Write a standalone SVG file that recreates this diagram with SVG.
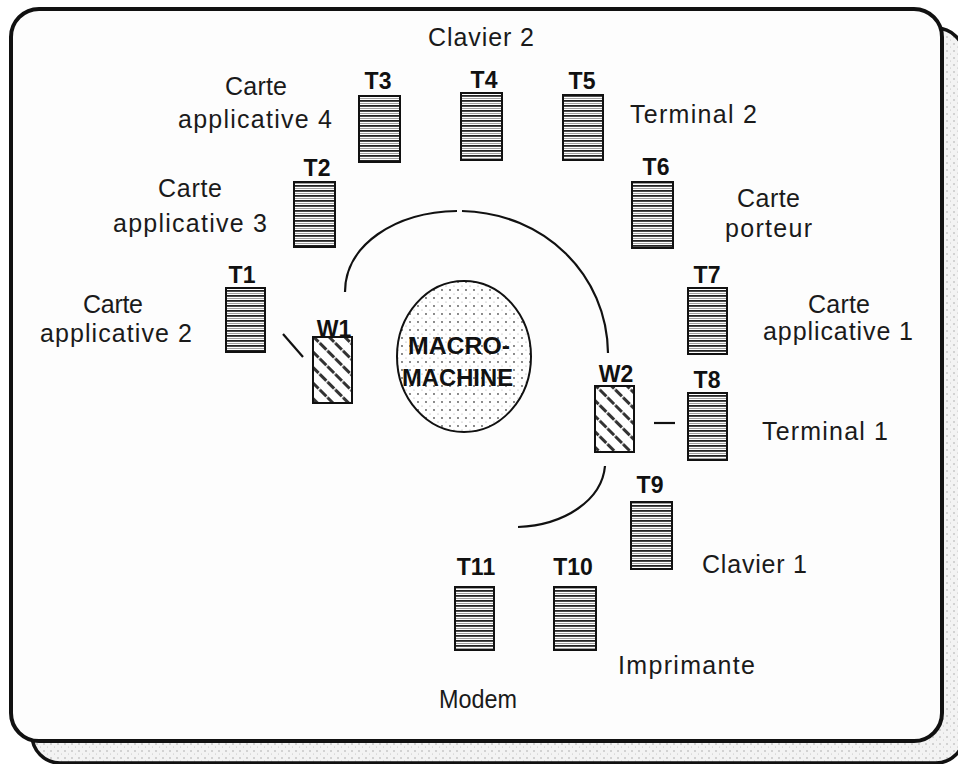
<svg xmlns="http://www.w3.org/2000/svg" width="958" height="764" viewBox="0 0 958 764">
<style>
.lbl{font-family:"Liberation Sans",Arial,sans-serif;font-size:25px;fill:#1a1a1a}
.tl{font-family:"Liberation Sans",Arial,sans-serif;font-size:23px;font-weight:bold;fill:#111;text-anchor:middle}
.mm{font-family:"Liberation Sans",Arial,sans-serif;font-size:24px;font-weight:bold;fill:#111}
.tbox{fill:url(#stripes);stroke:#111;stroke-width:2}
.wbox{fill:url(#hatch);stroke:#111;stroke-width:2}
.conn{fill:none;stroke:#111;stroke-width:2.2}
</style>
<defs>
<pattern id="stripes" x="0" y="0" width="8" height="5" patternUnits="userSpaceOnUse">
<rect width="8" height="5" fill="#fff"/>
<rect y="0" width="8" height="1.8" fill="#222"/>
<rect y="3" width="8" height="0.8" fill="#888"/>
</pattern>
<pattern id="hatch" x="0" y="0" width="11" height="11" patternUnits="userSpaceOnUse" patternTransform="rotate(45)">
<rect width="11" height="11" fill="#fff"/>
<line x1="0" y1="5.5" x2="11" y2="5.5" stroke="#333" stroke-width="3" stroke-dasharray="5 1.5"/>
</pattern>
<pattern id="dots" x="0" y="0" width="8" height="8" patternUnits="userSpaceOnUse">
<rect width="8" height="8" fill="#fff"/>
<circle cx="2" cy="2" r="0.9" fill="#555"/>
<circle cx="6" cy="6" r="0.6" fill="#999"/>
</pattern>
<pattern id="shade" x="0" y="0" width="7" height="7" patternUnits="userSpaceOnUse">
<rect width="7" height="7" fill="#f3f3f3"/>
<circle cx="2" cy="2" r="0.7" fill="#999"/>
<circle cx="5.5" cy="5" r="0.5" fill="#bbb"/>
</pattern>
</defs>
<rect width="958" height="764" fill="#fff"/>
<g id="frame">
<rect x="32" y="28" width="932" height="735" rx="28" fill="url(#shade)" stroke="#111" stroke-width="3.5"/>
<rect x="11" y="9" width="931" height="732" rx="28" fill="#fdfdfd" stroke="#111" stroke-width="4"/>
</g>
<g id="connectors">
<path class="conn" d="M345 292 C345 245 395 212 457 211"/>
<path class="conn" d="M462 211 C545 213 607 275 608 353"/>
<path class="conn" d="M605 466 C602 500 565 525 518 527"/>
<line class="conn" x1="283" y1="334" x2="303" y2="357"/>
<line class="conn" x1="654" y1="423" x2="675" y2="423"/>
</g>
<g id="macro-machine">
<ellipse cx="464" cy="356.5" rx="67" ry="75.5" fill="url(#dots)" stroke="#111" stroke-width="2"/>
<text class="mm" x="408" y="354" textLength="102" lengthAdjust="spacingAndGlyphs">MACRO-</text>
<text class="mm" x="402" y="386" textLength="111" lengthAdjust="spacingAndGlyphs">MACHINE</text>
</g>
<g id="W1"><rect class="wbox" x="313" y="337" width="39" height="66"/><text class="tl" x="334" y="337">W1</text></g>
<g id="W2"><rect class="wbox" x="595" y="386" width="39" height="66"/><text class="tl" x="616" y="382">W2</text></g>
<g id="T1"><rect class="tbox" x="226" y="288" width="39" height="64"/><text class="tl" x="242" y="283">T1</text></g>
<g id="T2"><rect class="tbox" x="294" y="182" width="41" height="65"/><text class="tl" x="317" y="176">T2</text></g>
<g id="T3"><rect class="tbox" x="359" y="96" width="41" height="66"/><text class="tl" x="378" y="89">T3</text></g>
<g id="T4"><rect class="tbox" x="461" y="93" width="41" height="67"/><text class="tl" x="484" y="88">T4</text></g>
<g id="T5"><rect class="tbox" x="563" y="95" width="40" height="65"/><text class="tl" x="582" y="89">T5</text></g>
<g id="T6"><rect class="tbox" x="632" y="182" width="41" height="66"/><text class="tl" x="656" y="175">T6</text></g>
<g id="T7"><rect class="tbox" x="688" y="288" width="39" height="66"/><text class="tl" x="707" y="283">T7</text></g>
<g id="T8"><rect class="tbox" x="688" y="393" width="39" height="67"/><text class="tl" x="707" y="388">T8</text></g>
<g id="T9"><rect class="tbox" x="631" y="502" width="41" height="67"/><text class="tl" x="650" y="493">T9</text></g>
<g id="T10"><rect class="tbox" x="554" y="587" width="42" height="63"/><text class="tl" x="573" y="575">T10</text></g>
<g id="T11"><rect class="tbox" x="455" y="587" width="39" height="63"/><text class="tl" x="476" y="575">T11</text></g>
<g id="labels">
<text class="lbl" x="428" y="46" textLength="106" lengthAdjust="spacing">Clavier 2</text>
<text class="lbl" x="225" y="95" textLength="62" lengthAdjust="spacing">Carte</text>
<text class="lbl" x="178" y="128" textLength="154" lengthAdjust="spacing">applicative 4</text>
<text class="lbl" x="630" y="123" textLength="127" lengthAdjust="spacing">Terminal 2</text>
<text class="lbl" x="158" y="197" textLength="64" lengthAdjust="spacing">Carte</text>
<text class="lbl" x="113" y="232" textLength="154" lengthAdjust="spacing">applicative 3</text>
<text class="lbl" x="737" y="207" textLength="63" lengthAdjust="spacing">Carte</text>
<text class="lbl" x="725" y="237" textLength="87" lengthAdjust="spacing">porteur</text>
<text class="lbl" x="83" y="313" textLength="60" lengthAdjust="spacing">Carte</text>
<text class="lbl" x="40" y="342" textLength="152" lengthAdjust="spacing">applicative 2</text>
<text class="lbl" x="808" y="313" textLength="62" lengthAdjust="spacing">Carte</text>
<text class="lbl" x="763" y="340" textLength="150" lengthAdjust="spacing">applicative 1</text>
<text class="lbl" x="762" y="440" textLength="126" lengthAdjust="spacing">Terminal 1</text>
<text class="lbl" x="702" y="573" textLength="105" lengthAdjust="spacing">Clavier 1</text>
<text class="lbl" x="618" y="674" textLength="137" lengthAdjust="spacing">Imprimante</text>
<text class="lbl" x="439" y="708" textLength="78" lengthAdjust="spacingAndGlyphs">Modem</text>
</g>
</svg>
